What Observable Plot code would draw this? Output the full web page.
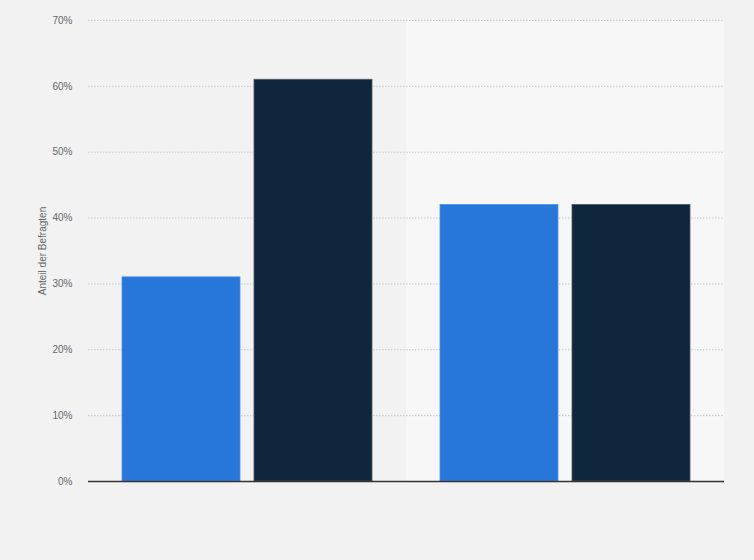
<!DOCTYPE html>
<html>
<head>
<meta charset="utf-8">
<script src="https://cdn.jsdelivr.net/npm/d3@7"></script>
<script src="https://cdn.jsdelivr.net/npm/@observablehq/plot@0.6"></script>
<style>
  html, body { margin: 0; padding: 0; background: #f2f2f2; }
  #chart svg { display: block; background: #f2f2f2; }
</style>
</head>
<body>
<div id="chart"></div>
<script>
const groups = ["Gruppe 1", "Gruppe 2"];
const series = ["Serie A", "Serie B"];
const valuesA = [31, 42];
const valuesB = [61, 42];
const yTicks = [0, 10, 20, 30, 40, 50, 60, 70];
const yLabel = "Anteil der Befragten";
const colors = ["#2776d9", "#10263d"];
const shadedGroups = ["Gruppe 2"];

const data = [];
groups.forEach((g, i) => {
  data.push({group: g, series: series[0], value: valuesA[i]});
  data.push({group: g, series: series[1], value: valuesB[i]});
});

const chart = Plot.plot({
  width: 754,
  height: 560,
  marginLeft: 88,
  marginRight: 30,
  marginTop: 20,
  marginBottom: 79,
  style: {background: "#f2f2f2", fontFamily: "Liberation Sans, Arial, sans-serif"},
  fx: {domain: groups, padding: 0, axis: null},
  x: {domain: series, paddingInner: 0.105, paddingOuter: 0.25, axis: null},
  y: {domain: [0, 70], ticks: yTicks, label: null},
  color: {domain: series, range: colors},
  marks: [
    Plot.barY(shadedGroups.map(g => ({group: g, v: 70})), {fx: "group", y: "v", fill: "#f7f7f7"}),
    Plot.gridY(yTicks, {stroke: "#c8c8c8", strokeOpacity: 1, strokeDasharray: "1.5,1.5", strokeWidth: 1}),
    Plot.axisY(yTicks, {
      facetAnchor: "left",
      tickSize: 0, tickPadding: 16, fontSize: 10, color: "#666",
      tickFormat: d => d + "%",
      label: yLabel, labelAnchor: "center", labelArrow: "none", labelOffset: 50
    }),
    Plot.barY(data, {fx: "group", x: "series", y: "value", fill: "series", stroke: d => d.series === series[0] ? "#5295ea" : "#4a5a6d", strokeWidth: 0.8}),
    Plot.ruleY([0], {stroke: "#333", strokeWidth: 1.5})
  ]
});
document.getElementById("chart").appendChild(chart);
</script>
</body>
</html>
